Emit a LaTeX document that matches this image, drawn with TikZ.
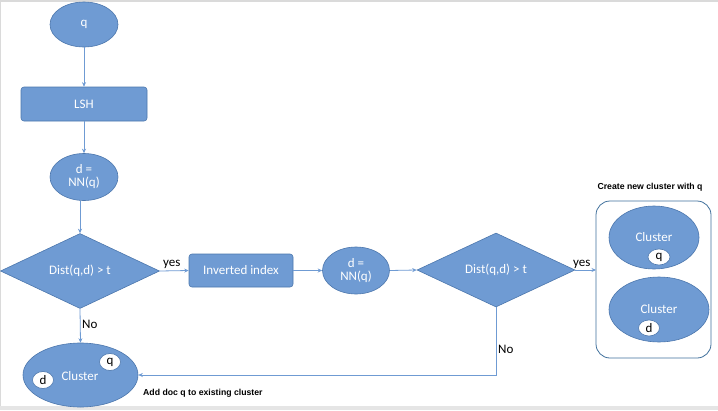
\documentclass[tikz,border=0pt]{standalone}
\usepackage{fontspec}
\setmainfont{Carlito}
\newfontfamily\labfont{Liberation Sans}
\usetikzlibrary{shapes.geometric,arrows.meta}
\definecolor{bfill}{HTML}{6F9BD3}
\definecolor{bdraw}{HTML}{4C77AD}
\definecolor{lblue}{HTML}{6F9BD3}
\definecolor{cbox}{HTML}{41719C}
\definecolor{frame}{HTML}{DADADA}
\tikzset{
  shp/.style={fill=bfill,draw=bdraw,line width=0.6pt,text=white,font=\fontsize{13}{14}\selectfont,align=center,inner sep=0pt},
  ell/.style={shp,ellipse},
  box/.style={shp,rectangle,rounded corners=3pt},
  dia/.style={shp,diamond},
  dot/.style={ellipse,fill=white,draw=bdraw,line width=0.6pt,text=black,inner sep=0pt,font=\fontsize{13}{14}\selectfont},
  conn/.style={draw=lblue,line width=0.8pt,-{Stealth[length=4.5pt,width=4pt]}},
  lab/.style={font=\fontsize{13}{14}\selectfont,text=black,inner sep=0pt},
  note/.style={font=\labfont\bfseries\fontsize{8.7}{10}\selectfont,text=black,inner sep=0pt}
}
\begin{document}
\begin{tikzpicture}[x=1pt,y=-1pt]
\useasboundingbox (0,0) rectangle (718,410);
\fill[white] (0,0) rectangle (718,410);
\fill[frame!70] (0,405.5) rectangle (718,410);
\draw[frame,line width=1.5pt] (0,1) -- (718,1);
\draw[frame,line width=1.2pt] (0.6,0) -- (0.6,405.5);

\node[ell,minimum width=68pt,minimum height=45pt] (q) at (84,24.5) {q};
\node[box,minimum width=126pt,minimum height=34pt] (lsh) at (84,104) {LSH};
\node[ell,minimum width=68pt,minimum height=47pt] (nn1) at (84,177) {d =\\[-1pt]NN(q)};
\node[dia,minimum width=159pt,minimum height=75pt] (d1) at (80,271) {Dist(q,d) > t};
\node[box,minimum width=104pt,minimum height=33pt] (inv) at (241,270.5) {Inverted index};
\node[ell,minimum width=67pt,minimum height=47pt] (nn2) at (356,270.5) {d =\\[-1pt]NN(q)};
\node[dia,minimum width=158pt,minimum height=74pt] (d2) at (496,270) {Dist(q,d) > t};

\draw[cbox,line width=0.8pt,rounded corners=14pt] (596,201) rectangle (711,358);
\coordinate (boxw) at (596,270);
\node[note] (t1) at (650,187) {Create new cluster with q};
\node[ell,minimum width=90pt,minimum height=63pt] (c1) at (654,237.5) {};
\node[text=white,font=\fontsize{13}{14}\selectfont] (c1t) at (654,237) {Cluster};
\node[dot,minimum width=22pt,minimum height=16pt] (c1q) at (659,257) {q};
\node[ell,minimum width=100pt,minimum height=65pt] (c2) at (659,309.5) {};
\node[text=white,font=\fontsize{13}{14}\selectfont] (c2t) at (659,309) {Cluster};
\node[dot,minimum width=21pt,minimum height=16pt] (c2d) at (649,328) {d};

\node[ell,minimum width=115pt,minimum height=64pt] (c0) at (80.5,375) {};
\node[text=white,font=\fontsize{13}{14}\selectfont] (c0t) at (80,376) {Cluster};
\node[dot,minimum width=21pt,minimum height=17pt] (c0q) at (110,362) {q};
\node[dot,minimum width=21pt,minimum height=17pt] (c0d) at (43,380) {d};
\node[note,anchor=west] (t0) at (143,393) {Add doc q to existing cluster};

\draw[conn] (q) -- (lsh);
\draw[conn] (lsh) -- (nn1);
\draw[conn] (nn1.south -| d1.north) -- (d1.north);
\draw[conn] (d1.east) -- (inv.west);
\draw[conn] (inv.east) -- (nn2.west);
\draw[conn] (nn2.east) -- (d2.west);
\draw[conn] (d2.east) -- (boxw);
\draw[conn] (d1.south) -- (c0.north);
\draw[conn] (d2.south) |- (c0.east);

\node[lab,anchor=base west] (y1) at (163,266) {yes};
\node[lab,anchor=base west] (y2) at (573,266) {yes};
\node[lab,anchor=base west] (n1) at (82,328.5) {No};
\node[lab,anchor=base west] (n2) at (498,353.5) {No};
\end{tikzpicture}
\end{document}
